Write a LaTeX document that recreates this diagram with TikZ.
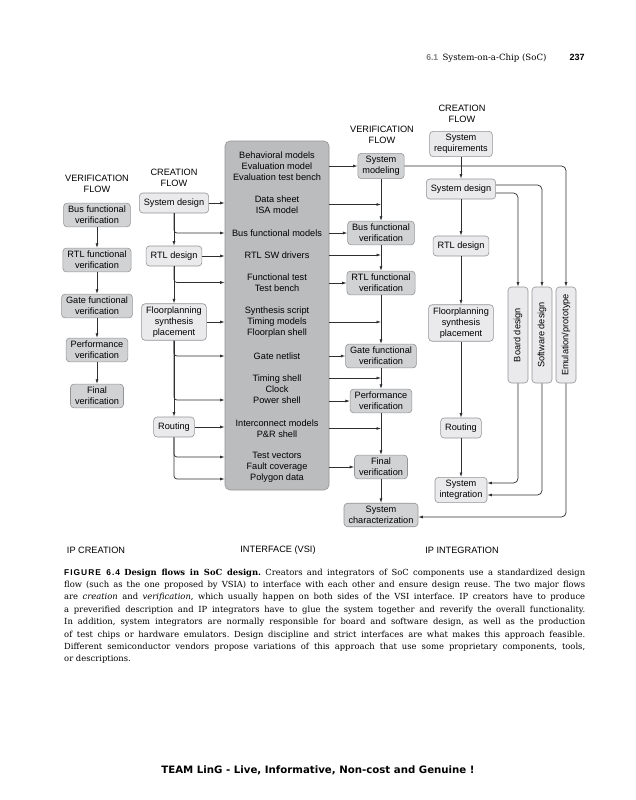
\documentclass[tikz,border=0pt]{standalone}
\usepackage{fontspec}
\setmainfont{DejaVu Serif}
\setsansfont{Liberation Sans}
\newfontfamily\figfont[LetterSpace=12]{Liberation Sans}
\newfontfamily\teamfont{DejaVu Sans}
\usetikzlibrary{arrows.meta,calc}
\definecolor{coregray}{HTML}{BBBCBE}
\definecolor{verigray}{HTML}{D1D2D4}
\definecolor{creagray}{HTML}{EAEAEC}
\definecolor{edgegray}{HTML}{949496}
\definecolor{linegray}{HTML}{2E2E2E}
\newcommand\capline[1]{\makebox[521pt][s]{#1}}
\tikzset{
  every node/.style={font=\sffamily\fontsize{9.2}{11}\selectfont, align=center},
  flowbox/.style={draw=edgegray, rounded corners=3.5pt, line width=0.6pt,
    inner xsep=4.5pt, inner ysep=3pt, minimum height=20pt},
  verbox/.style={flowbox, fill=verigray},
  creabox/.style={flowbox, fill=creagray},
  vbox/.style={creabox, minimum width=20pt, minimum height=96pt, inner sep=0pt},
  arr/.style={draw=linegray, line width=0.7pt, -{Latex[length=4.5pt,width=3pt]}},
  branch/.style={arr, rounded corners=3pt},
  route/.style={arr, rounded corners=4.5pt},
  capstyle/.style={anchor=base west, inner sep=0pt, font=\rmfamily\frenchspacing\fontsize{8.4}{10}\selectfont},
}
\begin{document}
\begin{tikzpicture}[x=1pt,y=-1pt]
\fill[white] (0,0) rectangle (635,800);
\useasboundingbox (0,0) rectangle (635,800);

% running head
\node[anchor=base east, font=\rmfamily\fontsize{8.6}{10}\selectfont] (head) at (550,61)
  {{\sffamily\bfseries\color{gray}6.1}\enspace System-on-a-Chip (SoC)};
\node[anchor=base west, font=\sffamily\bfseries\fontsize{9}{10}\selectfont] (page) at (566,61) {237};

% IP creation: verification flow
\node (lverlab) at (97,184) {VERIFICATION\\FLOW};
\node[verbox] (lbus) at (97,215) {Bus functional\\verification};
\node[verbox] (lrtl) at (97,260) {RTL functional\\verification};
\node[verbox] (lgate) at (97,306) {Gate functional\\verification};
\node[verbox] (lperf) at (97,350) {Performance\\verification};
\node[verbox] (lfin) at (97,396) {Final\\verification};
\draw[arr] (lbus) -- (lrtl);
\draw[arr] (lrtl) -- (lgate);
\draw[arr] (lgate) -- (lperf);
\draw[arr] (lperf) -- (lfin);

% IP creation: creation flow
\node (lcrealab) at (174,178) {CREATION\\FLOW};
\node[creabox] (lsys) at (174,203) {System design};
\node[creabox] (lrtld) at (174,256) {RTL design};
\node[creabox] (lfloor) at (174,322) {Floorplanning\\synthesis\\placement};
\node[creabox] (lrout) at (174,427) {Routing};

% interface (VSI)
\node[draw=edgegray, fill=coregray, rounded corners=5pt, line width=0.6pt,
  minimum width=104pt, minimum height=349pt] (core) at (277,315.5) {};
\node (cbeh) at (277,166) {Behavioral models\\Evaluation model\\Evaluation test bench};
\node (cdata) at (277,204.5) {Data sheet\\ISA model};
\node (cbus) at (277,233) {Bus functional models};
\node (cdrv) at (277,255) {RTL SW drivers};
\node (cfunc) at (277,282.5) {Functional test\\Test bench};
\node (csyn) at (277,322) {Synthesis script\\Timing models\\Floorplan shell};
\node (cnet) at (277,356) {Gate netlist};
\node (ctim) at (277,389) {Timing shell\\Clock\\Power shell};
\node (cint) at (277,428.5) {Interconnect models\\P\&R shell};
\node (cvec) at (277,467.5) {Test vectors\\Fault coverage\\Polygon data};

\draw[arr] (lsys) -- (lsys -| core.west);
\draw[arr] (lsys) -- (lrtld);
\draw[branch] (lsys.south) |- (core.west |- cbus);
\draw[arr] (lrtld) -- (lrtld -| core.west);
\draw[arr] (lrtld) -- (lfloor);
\draw[branch] (lrtld.south) |- (core.west |- cfunc);
\draw[arr] (lfloor) -- (lfloor -| core.west);
\draw[arr] (lfloor) -- (lrout);
\draw[branch] (lfloor.south) |- (core.west |- cnet);
\draw[branch] (lfloor.south) |- ($(core.west |- ctim)+(0,11)$);
\draw[arr] (lrout) -- (lrout -| core.west);
\draw[branch] (lrout.south) |- ($(core.west |- cvec)+(0,-10.5)$);
\draw[branch] (lrout.south) |- ($(core.west |- cvec)+(0,11.5)$);

% IP integration: verification flow
\node (mverlab) at (382,135) {VERIFICATION\\FLOW};
\node[verbox] (vsm) at (381,166) {System\\modeling};
\node[verbox] (vbus) at (381,233) {Bus functional\\verification};
\node[verbox] (vrtl) at (381,283) {RTL functional\\verification};
\node[verbox] (vgate) at (381,356) {Gate functional\\verification};
\node[verbox] (vperf) at (381,401) {Performance\\verification};
\node[verbox] (vfin) at (381,467) {Final\\verification};
\node[verbox] (vchar) at (381,515) {System\\characterization};
\draw[arr] (vsm) -- (vbus);
\draw[arr] (vbus) -- (vrtl);
\draw[arr] (vrtl) -- (vgate);
\draw[arr] (vgate) -- (vperf);
\draw[arr] (vperf) -- (vfin);
\draw[arr] (vfin) -- (vchar);

\draw[arr] (core.east |- vsm) -- (vsm);
\draw[arr] (core.east |- cdata) -- (cdata -| vsm);
\draw[arr] (core.east |- vbus) -- (vbus);
\draw[arr] (core.east |- cdrv) -- (cdrv -| vbus);
\draw[arr] (core.east |- vrtl) -- (vrtl);
\draw[arr] (core.east |- csyn) -- (csyn -| vrtl);
\draw[arr] (core.east |- vgate) -- (vgate);
\draw[arr] ($(core.east |- ctim)+(0,-11)$) -- ($(vgate |- ctim)+(0,-11)$);
\draw[arr] (core.east |- vperf) -- (vperf);
\draw[arr] (core.east |- cint) -- (cint -| vperf);
\draw[arr] (core.east |- vfin) -- (vfin);

% IP integration: creation flow
\node (rcrealab) at (462,113.5) {CREATION\\FLOW};
\node[creabox] (rreq) at (461,144) {System\\requirements};
\node[creabox] (rsys) at (461,189) {System design};
\node[creabox] (rrtl) at (461,246) {RTL design};
\node[creabox] (rfloor) at (461,323) {Floorplanning\\synthesis\\placement};
\node[creabox] (rrout) at (461,428) {Routing};
\node[creabox] (rint) at (461,490) {System\\integration};
\node[vbox] (board) at (518,335) {\rotatebox{90}{Board design}};
\node[vbox] (soft) at (542,335) {\rotatebox{90}{Software design}};
\node[vbox] (emul) at (566,335) {\rotatebox{90}{Emulation/prototype}};
\draw[arr] (rreq) -- (rsys);
\draw[arr] (rsys) -- (rrtl);
\draw[arr] (rrtl) -- (rfloor);
\draw[arr] (rfloor) -- (rrout);
\draw[arr] (rrout) -- (rint);
\draw[route] ([yshift=4pt]rsys.east) -| (soft.north);
\draw[route] ([yshift=-4pt]rsys.east) -| (board.north);
\draw[route] (vsm.east) -| (emul.north);
\draw[route] (board.south) |- ([yshift=7pt]rint.east);
\draw[route] (soft.south) |- ([yshift=-5pt]rint.east);
\draw[route] (emul.south) |- ([yshift=-2pt]vchar.east);

% column titles
\node (ipcrea) at (96,550) {IP CREATION};
\node (ipvsi) at (278,550) {INTERFACE (VSI)};
\node (ipint) at (462,550) {IP INTEGRATION};

% caption
\node[capstyle] (cap1) at (64,575) {\capline{{\sffamily\figfont\bfseries FIGURE 6.4}\enspace
  \textbf{Design flows in SoC design.} Creators and integrators of SoC components use a standardized design}};
\node[capstyle] (cap2) at (64,587.4) {\capline{flow (such as the one proposed by VSIA) to interface with each other and ensure design reuse. The two major flows}};
\node[capstyle] (cap3) at (64,599.8) {\capline{are \textit{creation} and \textit{verification}, which usually happen on both sides of the VSI interface. IP creators have to produce}};
\node[capstyle] (cap4) at (64,612.2) {\capline{a preverified description and IP integrators have to glue the system together and reverify the overall functionality.}};
\node[capstyle] (cap5) at (64,624.6) {\capline{In addition, system integrators are normally responsible for board and software design, as well as the production}};
\node[capstyle] (cap6) at (64,637) {\capline{of test chips or hardware emulators. Design discipline and strict interfaces are what makes this approach feasible.}};
\node[capstyle] (cap7) at (64,649.4) {\capline{Different semiconductor vendors propose variations of this approach that use some proprietary components, tools,}};
\node[capstyle] (cap8) at (64,661.8) {or descriptions.};

% footer
\node[font=\teamfont\bfseries\fontsize{10.2}{12}\selectfont] (team) at (318,770)
  {TEAM LinG - Live, Informative, Non-cost and Genuine !};
\end{tikzpicture}
\end{document}
